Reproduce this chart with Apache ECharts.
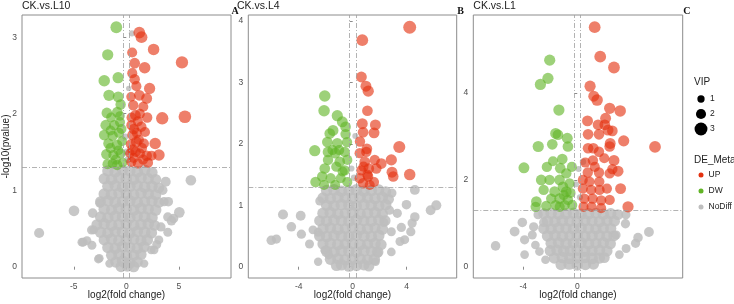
<!DOCTYPE html>
<html>
<head>
<meta charset="utf-8">
<script src="https://cdn.jsdelivr.net/npm/echarts@6/dist/echarts.min.js"></script>
<style>
    html, body { margin: 0; padding: 0; background: #fff; }
    #volcano { width: 734px; height: 304px; }
</style>
</head>
<body>
<div id="volcano"></div>
<script>
const panelNames = ['CK.vs.L10', 'CK.vs.L4', 'CK.vs.L1'];
const panelTags = ['A', 'B', 'C'];
const xTicks = [[-5, 0, 5], [-4, 0, 4], [-4, 0]];
const yTicks = [[0, 1, 2, 3], [0, 1, 2, 3, 4], [0, 2, 4]];
const fcCut = 0.25; // log2 fold change cut
const pCut = 1.301; // -log10(0.05)
const vipLevels = [1, 2, 3];
const groups = ['UP', 'DW', 'NoDiff'];

// points: [log2FC, -log10(p), VIP]
const up1 = [
    [1.24, 3.06, 2.6], [1.45, 3.0, 2.6], [2.6, 2.84, 2.5], [0.56, 2.8, 2.0], [5.3, 2.67, 2.8], [0.8, 2.66, 2.2],
    [0.57, 2.53, 2.0], [1.75, 2.6, 2.5], [0.8, 2.45, 2.1], [0.96, 2.36, 2.0], [2.22, 2.33, 2.4], [1.24, 2.24, 2.2],
    [1.94, 2.2, 2.3], [0.66, 2.11, 2.1], [1.62, 2.09, 2.0], [0.87, 1.98, 2.2], [1.99, 1.95, 2.1], [3.42, 1.94, 2.8],
    [5.58, 1.96, 2.9], [0.48, 1.85, 2.0], [1.43, 1.83, 2.1], [0.6, 1.72, 2.2], [1.78, 1.76, 2.0], [0.96, 1.63, 2.3],
    [1.68, 1.61, 2.0], [2.75, 1.61, 2.5], [3.11, 1.46, 2.5], [0.6, 1.53, 2.2], [1.3, 1.48, 2.0], [1.94, 1.45, 2.2],
    [0.48, 1.37, 2.0], [1.11, 1.35, 2.1], [2.06, 1.36, 2.1], [0.5, 1.95, 2.0], [1.1, 1.9, 2.0], [0.72, 1.8, 2.1],
    [1.2, 1.66, 2.0], [0.9, 1.5, 2.0], [1.6, 1.4, 2.0], [0.42, 1.6, 1.9], [1.3, 2.0, 1.9], [0.45, 2.22, 1.8],
    [1.0, 1.75, 2.0], [2.4, 1.45, 2.0], [1.5, 1.55, 2.0], [0.7, 1.42, 2.0], [0.35, 1.48, 1.8]
];
const dw1 = [
    [-0.95, 3.13, 2.6], [-1.77, 2.77, 2.4], [-2.1, 2.43, 2.5], [-0.78, 2.47, 2.4], [-1.65, 2.24, 2.4], [-0.77, 2.22, 2.3],
    [-0.54, 2.12, 2.1], [-1.85, 2.01, 2.2], [-0.86, 2.02, 2.2], [-1.96, 1.85, 2.2], [-1.15, 1.85, 2.1], [-0.6, 1.89, 2.0],
    [-2.1, 1.72, 2.2], [-1.3, 1.71, 2.1], [-0.7, 1.75, 2.0], [-1.7, 1.61, 2.1], [-0.88, 1.59, 2.2], [-0.4, 1.64, 1.9],
    [-1.9, 1.47, 2.1], [-1.23, 1.46, 2.0], [-0.53, 1.48, 2.0], [-1.79, 1.34, 2.0], [-0.87, 1.33, 2.1], [-0.34, 1.36, 1.8],
    [-1.5, 1.55, 2.0], [-1.0, 1.4, 2.0], [-0.45, 1.8, 1.9], [-1.45, 1.95, 1.9], [-0.6, 1.97, 1.8], [-1.5, 1.78, 1.9],
    [-0.75, 1.52, 1.9], [-1.3, 1.35, 1.9]
];
const no1 = [
    [-1.75, 1.25, 2.5], [-1.05, 1.24, 2.6], [-0.35, 1.26, 2.4], [0.35, 1.25, 2.5], [1.05, 1.24, 2.6], [1.75, 1.26, 2.5], [2.45, 1.23, 2.4],
    [-2.1, 1.15, 2.4], [-1.4, 1.14, 2.5], [-0.7, 1.16, 2.6], [0.0, 1.15, 2.5], [0.7, 1.14, 2.5], [1.4, 1.16, 2.6], [2.1, 1.15, 2.4], [2.8, 1.14, 2.3],
    [-1.75, 1.05, 2.5], [-1.05, 1.06, 2.5], [-0.35, 1.04, 2.6], [0.35, 1.05, 2.5], [1.05, 1.06, 2.4], [1.75, 1.04, 2.6], [2.45, 1.05, 2.5], [3.1, 1.03, 2.3],
    [-2.1, 0.95, 2.5], [-1.4, 0.94, 2.6], [-0.7, 0.96, 2.5], [0.0, 0.95, 2.4], [0.7, 0.94, 2.6], [1.4, 0.96, 2.5], [2.1, 0.95, 2.5], [2.8, 0.94, 2.4],
    [-2.45, 0.85, 2.3], [-1.75, 0.86, 2.5], [-1.05, 0.84, 2.6], [-0.35, 0.85, 2.5], [0.35, 0.86, 2.5], [1.05, 0.84, 2.6], [1.75, 0.85, 2.4], [2.45, 0.86, 2.5], [3.1, 0.84, 2.3],
    [-2.1, 0.75, 2.5], [-1.4, 0.74, 2.4], [-0.7, 0.76, 2.6], [0.0, 0.75, 2.5], [0.7, 0.74, 2.5], [1.4, 0.76, 2.6], [2.1, 0.75, 2.4], [2.8, 0.74, 2.5],
    [-2.45, 0.65, 2.4], [-1.75, 0.64, 2.5], [-1.05, 0.66, 2.5], [-0.35, 0.65, 2.6], [0.35, 0.64, 2.5], [1.05, 0.66, 2.4], [1.75, 0.65, 2.6], [2.45, 0.64, 2.5],
    [-2.8, 0.55, 2.3], [-2.1, 0.56, 2.5], [-1.4, 0.54, 2.6], [-0.7, 0.55, 2.5], [0.0, 0.56, 2.4], [0.7, 0.54, 2.6], [1.4, 0.55, 2.5], [2.1, 0.56, 2.5], [2.7, 0.54, 2.3],
    [-2.45, 0.45, 2.5], [-1.75, 0.44, 2.5], [-1.05, 0.46, 2.4], [-0.35, 0.45, 2.6], [0.35, 0.44, 2.5], [1.05, 0.46, 2.5], [1.75, 0.45, 2.6], [2.4, 0.44, 2.4],
    [-2.1, 0.35, 2.4], [-1.4, 0.36, 2.5], [-0.7, 0.34, 2.6], [0.0, 0.35, 2.5], [0.7, 0.36, 2.5], [1.4, 0.34, 2.4], [2.0, 0.35, 2.5],
    [-1.75, 0.25, 2.5], [-1.05, 0.24, 2.5], [-0.35, 0.26, 2.6], [0.35, 0.25, 2.4], [1.05, 0.24, 2.5], [1.7, 0.26, 2.4],
    [-1.4, 0.15, 2.4], [-0.7, 0.16, 2.5], [0.0, 0.14, 2.6], [0.7, 0.15, 2.5], [1.4, 0.16, 2.4],
    [-1.0, 0.06, 2.4], [-0.35, 0.07, 2.5], [0.35, 0.05, 2.5], [1.05, 0.06, 2.4],
    [-0.5, 0.0, 2.3], [0.1, 0.01, 2.5], [0.7, 0.0, 2.4],
    [6.15, 1.13, 2.2], [-4.98, 0.73, 2.2], [-8.3, 0.44, 2.0], [-3.2, 0.7, 1.8], [5.05, 0.71, 2.2], [4.5, 0.63, 1.8],
    [3.95, 0.65, 1.7], [3.3, 0.52, 1.7], [3.95, 0.45, 1.6], [3.1, 0.35, 1.6], [-4.22, 0.32, 1.6], [-3.75, 0.34, 1.6],
    [-3.27, 0.28, 1.6], [-2.57, 0.11, 1.5], [-1.6, 0.04, 1.4], [2.38, 0.22, 1.5], [2.65, 0.22, 1.5], [2.9, 0.29, 1.6],
    [3.75, 1.11, 2.0], [3.47, 1.0, 1.8], [4.0, 0.85, 1.8], [3.6, 0.85, 1.7], [4.3, 0.6, 1.8], [-2.5, 0.83, 1.8],
    [-3.3, 0.48, 1.7], [-4.1, 0.32, 1.6], [-2.66, 0.1, 1.5], [-3.1, 0.48, 1.5], [1.7, 0.04, 1.4],
    [0.54, 3.05, 0.6], [0.23, 2.33, 0.3], [0.05, 1.5, 0.8], [-0.1, 1.7, 0.6], [0.15, 1.4, 0.8]
];

const up2 = [
    [4.22, 3.9, 3.0], [0.71, 3.69, 2.6], [0.64, 3.09, 2.3], [0.98, 2.94, 2.3], [1.15, 2.86, 2.4], [1.09, 2.54, 2.2],
    [0.71, 2.33, 2.3], [1.68, 2.31, 2.3], [0.77, 2.19, 2.2], [1.58, 2.18, 2.3], [0.54, 2.04, 2.1], [3.45, 1.95, 2.7],
    [1.05, 1.92, 2.2], [2.86, 1.74, 2.4], [4.22, 1.5, 2.5], [2.91, 1.54, 2.3], [3.0, 1.47, 2.2], [0.52, 1.85, 2.1],
    [1.01, 1.87, 2.1], [0.89, 1.71, 2.2], [1.63, 1.74, 2.1], [2.12, 1.68, 2.2], [0.64, 1.57, 2.1], [1.19, 1.6, 2.2],
    [1.75, 1.6, 2.1], [0.52, 1.44, 2.1], [1.14, 1.47, 2.1], [1.58, 1.38, 2.0], [0.77, 1.36, 2.1], [1.26, 1.33, 2.0],
    [1.09, 1.5, 2.1], [0.8, 1.63, 2.0]
];
const dw2 = [
    [-2.07, 2.78, 2.5], [-2.12, 2.54, 2.5], [-1.14, 2.46, 2.4], [-0.77, 2.36, 2.3], [-0.53, 2.28, 2.2], [-1.46, 2.22, 2.3],
    [-1.7, 2.17, 2.2], [-0.53, 2.16, 2.1], [-1.88, 2.03, 2.2], [-1.14, 2.01, 2.2], [-0.42, 2.03, 2.1], [-2.81, 1.89, 2.4],
    [-1.83, 1.87, 2.2], [-1.29, 1.85, 2.2], [-0.59, 1.87, 2.1], [-1.83, 1.74, 2.1], [-0.96, 1.71, 2.2], [-0.4, 1.74, 2.0],
    [-2.07, 1.6, 2.2], [-1.21, 1.63, 2.1], [-0.59, 1.57, 2.1], [-2.75, 1.38, 2.2], [-2.26, 1.47, 2.1], [-1.63, 1.44, 2.1],
    [-0.89, 1.44, 2.0], [-0.4, 1.38, 2.0], [-2.12, 1.33, 2.0], [-1.3, 1.33, 2.0], [-0.75, 1.55, 2.0], [-1.5, 1.9, 2.0],
    [-1.0, 1.9, 2.0]
];
const no2 = [
    [-1.93, 1.24, 2.5], [-1.38, 1.25, 2.6], [-0.83, 1.23, 2.5], [-0.28, 1.24, 2.4], [0.28, 1.25, 2.6], [0.83, 1.23, 2.5], [1.38, 1.24, 2.5], [1.93, 1.25, 2.4], [2.45, 1.22, 2.3],
    [-2.2, 1.12, 2.4], [-1.65, 1.11, 2.5], [-1.1, 1.13, 2.6], [-0.55, 1.12, 2.5], [0.0, 1.11, 2.5], [0.55, 1.13, 2.6], [1.1, 1.12, 2.4], [1.65, 1.11, 2.5], [2.2, 1.13, 2.5], [2.65, 1.1, 2.3],
    [-1.93, 1.0, 2.5], [-1.38, 0.99, 2.5], [-0.83, 1.01, 2.6], [-0.28, 1.0, 2.5], [0.28, 0.99, 2.4], [0.83, 1.01, 2.6], [1.38, 1.0, 2.5], [1.93, 0.99, 2.5], [2.45, 1.01, 2.4],
    [-2.2, 0.87, 2.5], [-1.65, 0.88, 2.6], [-1.1, 0.86, 2.5], [-0.55, 0.87, 2.4], [0.0, 0.88, 2.6], [0.55, 0.86, 2.5], [1.1, 0.87, 2.5], [1.65, 0.88, 2.6], [2.2, 0.86, 2.4],
    [-2.45, 0.75, 2.3], [-1.93, 0.74, 2.5], [-1.38, 0.76, 2.6], [-0.83, 0.75, 2.5], [-0.28, 0.74, 2.5], [0.28, 0.76, 2.6], [0.83, 0.75, 2.4], [1.38, 0.74, 2.5], [1.93, 0.76, 2.5], [2.4, 0.75, 2.3],
    [-2.2, 0.62, 2.5], [-1.65, 0.63, 2.5], [-1.1, 0.61, 2.6], [-0.55, 0.62, 2.4], [0.0, 0.63, 2.5], [0.55, 0.61, 2.6], [1.1, 0.62, 2.5], [1.65, 0.63, 2.4], [2.2, 0.61, 2.5],
    [-2.45, 0.5, 2.4], [-1.93, 0.49, 2.5], [-1.38, 0.51, 2.5], [-0.83, 0.5, 2.6], [-0.28, 0.49, 2.5], [0.28, 0.51, 2.4], [0.83, 0.5, 2.6], [1.38, 0.49, 2.5], [1.93, 0.51, 2.5],
    [-2.2, 0.37, 2.4], [-1.65, 0.38, 2.5], [-1.1, 0.36, 2.6], [-0.55, 0.37, 2.5], [0.0, 0.38, 2.5], [0.55, 0.36, 2.6], [1.1, 0.37, 2.4], [1.65, 0.38, 2.5], [2.1, 0.36, 2.4],
    [-1.93, 0.25, 2.5], [-1.38, 0.24, 2.5], [-0.83, 0.26, 2.6], [-0.28, 0.25, 2.5], [0.28, 0.24, 2.5], [0.83, 0.26, 2.6], [1.38, 0.25, 2.4], [1.85, 0.24, 2.5],
    [-1.65, 0.12, 2.4], [-1.1, 0.13, 2.5], [-0.55, 0.11, 2.6], [0.0, 0.12, 2.5], [0.55, 0.13, 2.5], [1.1, 0.11, 2.4], [1.6, 0.12, 2.5],
    [-1.2, 0.02, 2.4], [-0.83, 0.03, 2.5], [-0.28, 0.01, 2.5], [0.28, 0.02, 2.5], [0.83, 0.03, 2.4], [1.2, 0.01, 2.3],
    [6.19, 1.0, 2.0], [5.77, 0.92, 1.9], [4.6, 1.25, 1.9], [3.98, 1.01, 1.8], [3.3, 0.87, 1.7], [4.6, 0.81, 1.8],
    [4.4, 0.71, 1.7], [3.6, 0.64, 1.7], [4.3, 0.57, 1.7], [3.85, 0.44, 1.6], [3.5, 0.41, 1.6], [2.86, 0.57, 1.6],
    [-5.16, 0.85, 2.0], [-3.85, 0.83, 1.9], [-4.54, 0.65, 1.8], [-6.03, 0.43, 1.8], [-5.65, 0.45, 1.7], [-3.8, 0.53, 1.7],
    [-3.2, 0.37, 1.6], [-2.56, 0.56, 1.6], [-2.94, 0.6, 1.6], [-2.56, 0.08, 1.4], [-2.07, 0.27, 1.5], [-1.77, 0.19, 1.5],
    [1.7, 0.08, 1.4], [1.88, 0.22, 1.5], [2.86, 0.24, 1.5], [-2.44, 1.07, 1.6], [2.31, 0.72, 1.6], [2.72, 0.92, 1.7],
    [2.9, 1.2, 1.7], [0.19, 2.13, 0.5], [0.1, 1.45, 0.7], [-0.1, 1.6, 0.6]
];

const up3 = [
    [1.29, 5.52, 2.6], [1.7, 4.84, 2.6], [2.72, 4.59, 2.6], [0.95, 4.16, 2.4], [1.22, 3.93, 2.3], [1.47, 3.84, 2.5],
    [2.4, 3.65, 2.4], [3.18, 3.59, 2.5], [0.76, 3.36, 2.3], [2.1, 3.42, 2.3], [1.54, 3.27, 2.2], [2.04, 3.27, 2.2],
    [2.28, 3.15, 2.3], [2.6, 3.13, 2.2], [0.8, 3.05, 2.2], [1.61, 3.05, 2.2], [3.44, 2.9, 2.4], [5.76, 2.76, 2.6],
    [2.44, 2.84, 2.3], [0.8, 2.73, 2.2], [1.19, 2.73, 2.2], [1.61, 2.65, 2.1], [2.4, 2.77, 2.2], [1.16, 2.45, 2.1],
    [2.72, 2.45, 2.3], [3.02, 2.2, 2.3], [0.78, 2.17, 2.1], [1.61, 2.17, 2.1], [2.4, 2.15, 2.1], [0.41, 2.0, 2.0],
    [0.9, 1.96, 2.1], [1.63, 1.96, 2.1], [3.21, 1.8, 2.3], [3.76, 1.38, 2.4], [2.4, 1.54, 2.1], [0.41, 1.8, 2.0],
    [1.03, 1.77, 2.1], [1.65, 1.77, 2.1], [0.52, 1.57, 2.1], [1.14, 1.57, 2.1], [1.77, 1.53, 2.1], [0.46, 1.38, 2.0],
    [1.06, 1.38, 2.0], [1.77, 1.35, 2.0], [2.2, 1.8, 2.0], [1.3, 2.3, 2.0], [0.6, 2.4, 2.0], [2.0, 2.5, 2.0],
    [2.6, 2.25, 2.1]
];
const dw3 = [
    [-2.04, 4.76, 2.4], [-2.17, 4.34, 2.4], [-2.73, 4.2, 2.4], [-1.36, 3.61, 2.4], [-1.6, 3.07, 2.3], [-1.43, 3.04, 2.2],
    [-0.74, 2.96, 2.3], [-1.85, 2.82, 2.2], [-2.89, 2.77, 2.4], [-0.69, 2.77, 2.2], [-3.95, 2.28, 2.3], [-1.11, 2.48, 2.2],
    [-0.4, 2.3, 2.0], [-2.25, 2.3, 2.1], [-1.26, 2.27, 2.2], [-2.67, 2.0, 2.2], [-2.05, 2.0, 2.1], [-1.31, 2.0, 2.2],
    [-0.57, 1.92, 2.1], [-1.06, 1.84, 2.2], [-2.49, 1.77, 2.1], [-1.68, 1.73, 2.2], [-0.81, 1.73, 2.2], [-3.03, 1.5, 2.2],
    [-3.08, 1.38, 2.1], [-1.93, 1.57, 2.1], [-1.31, 1.57, 2.2], [-0.69, 1.54, 2.1], [-2.3, 1.4, 2.1], [-1.6, 1.42, 2.1],
    [-0.93, 1.42, 2.1], [-0.37, 1.42, 2.0], [-1.8, 2.43, 2.0], [-0.81, 2.15, 2.1], [-1.3, 1.38, 2.0], [-1.0, 1.65, 2.0],
    [-0.5, 1.7, 2.0]
];
const no3 = [
    [-2.48, 1.22, 2.4], [-1.93, 1.23, 2.5], [-1.38, 1.21, 2.5], [-0.83, 1.22, 2.6], [-0.28, 1.23, 2.5], [0.28, 1.21, 2.5], [0.83, 1.22, 2.6], [1.38, 1.23, 2.4], [1.93, 1.21, 2.5], [2.48, 1.22, 2.5], [3.0, 1.2, 2.3],
    [-2.2, 1.05, 2.5], [-1.65, 1.04, 2.5], [-1.1, 1.06, 2.6], [-0.55, 1.05, 2.5], [0.0, 1.04, 2.5], [0.55, 1.06, 2.6], [1.1, 1.05, 2.4], [1.65, 1.04, 2.5], [2.2, 1.06, 2.5], [2.75, 1.05, 2.4],
    [-2.48, 0.88, 2.4], [-1.93, 0.87, 2.5], [-1.38, 0.89, 2.6], [-0.83, 0.88, 2.5], [-0.28, 0.87, 2.5], [0.28, 0.89, 2.6], [0.83, 0.88, 2.4], [1.38, 0.87, 2.5], [1.93, 0.89, 2.5], [2.48, 0.88, 2.4],
    [-2.2, 0.71, 2.5], [-1.65, 0.72, 2.5], [-1.1, 0.7, 2.6], [-0.55, 0.71, 2.4], [0.0, 0.72, 2.5], [0.55, 0.7, 2.6], [1.1, 0.71, 2.5], [1.65, 0.72, 2.4], [2.2, 0.7, 2.5], [2.7, 0.71, 2.3],
    [-1.93, 0.54, 2.5], [-1.38, 0.55, 2.5], [-0.83, 0.53, 2.6], [-0.28, 0.54, 2.5], [0.28, 0.55, 2.5], [0.83, 0.53, 2.6], [1.38, 0.54, 2.4], [1.93, 0.55, 2.5], [2.45, 0.53, 2.4],
    [-2.0, 0.37, 2.4], [-1.5, 0.38, 2.5], [-1.0, 0.36, 2.6], [-0.5, 0.37, 2.5], [0.0, 0.38, 2.5], [0.55, 0.36, 2.6], [1.1, 0.37, 2.4], [1.65, 0.38, 2.5], [2.2, 0.36, 2.4],
    [-1.7, 0.2, 2.4], [-1.1, 0.21, 2.5], [-0.55, 0.19, 2.6], [0.0, 0.2, 2.5], [0.55, 0.21, 2.5], [1.1, 0.19, 2.6], [1.65, 0.2, 2.4], [2.0, 0.21, 2.3],
    [-1.2, 0.05, 2.4], [-0.6, 0.06, 2.5], [0.0, 0.04, 2.5], [0.6, 0.05, 2.5], [1.2, 0.06, 2.4],
    [-6.05, 0.48, 1.8], [-4.64, 0.81, 1.9], [-4.07, 1.02, 1.8], [-3.23, 0.92, 1.7], [-3.9, 0.62, 1.7], [-3.33, 0.73, 1.6],
    [-3.9, 0.28, 1.5], [-2.49, 1.02, 1.7], [-2.35, 0.16, 1.5], [4.5, 0.67, 1.8], [5.31, 0.8, 1.9], [4.32, 0.54, 1.7],
    [3.62, 0.42, 1.6], [3.12, 0.28, 1.5], [2.88, 0.73, 1.6], [3.57, 0.99, 1.7], [3.6, 1.2, 1.7], [-2.9, 1.2, 1.7],
    [-3.1, 0.5, 1.5], [-2.8, 0.35, 1.5], [0.42, 2.42, 0.7], [0.2, 1.6, 0.6], [-0.1, 1.9, 0.6], [0.1, 2.25, 0.5]
];

const panelData = [
    { UP: up1, DW: dw1, NoDiff: no1 },
    { UP: up2, DW: dw2, NoDiff: no2 },
    { UP: up3, DW: dw3, NoDiff: no3 },
];

// plot frames (px) and axis extents
const frames = [
    { left: 22, width: 209, xMin: -9.93, xMax: 9.97, yMin: -0.148, yMax: 3.29 },
    { left: 248.3, width: 208.4, xMin: -7.73, xMax: 7.7, yMin: -0.184, yMax: 4.1 },
    { left: 473.3, width: 209.4, xMin: -7.7, xMax: 7.81, yMin: -0.26, yMax: 5.8 },
];
const colors = { UP: '#E4310F', DW: '#61B426', NoDiff: '#BEBEBE' };
const alphas = { UP: 0.62, DW: 0.62, NoDiff: 0.86 };
const vipSize = v => 4.5 + 2.8 * v;
const sans = 'Liberation Sans, Arial, sans-serif';

const chart = echarts.init(document.getElementById('volcano'));

const grid = frames.map(f => ({
    left: f.left, top: 15, width: f.width, height: 263,
    show: true, borderColor: '#8c8c8c', borderWidth: 1, backgroundColor: '#fff',
    outerBoundsMode: 'none',
}));

const xAxis = frames.map((f, i) => ({
    gridIndex: i, type: 'value', min: f.xMin, max: f.xMax,
    axisLine: { show: false }, splitLine: { show: false },
    axisTick: { show: true, length: 3, lineStyle: { color: '#8c8c8c' }, customValues: xTicks[i] },
    axisLabel: { customValues: xTicks[i], fontSize: 8.5, color: '#4d4d4d', margin: 4, fontFamily: sans },
    name: 'log2(fold change)', nameLocation: 'middle', nameGap: 12, nameMoveOverlap: false,
    nameTextStyle: { fontSize: 10, color: '#222', fontFamily: sans },
}));

const yAxis = frames.map((f, i) => ({
    gridIndex: i, type: 'value', min: f.yMin, max: f.yMax,
    axisLine: { show: false }, splitLine: { show: false },
    axisTick: { show: true, length: 3, lineStyle: { color: '#8c8c8c' }, customValues: yTicks[i] },
    axisLabel: { customValues: yTicks[i], fontSize: 8.5, color: '#4d4d4d', margin: 5, fontFamily: sans },
    name: i === 0 ? '-log10(pvalue)' : '', nameLocation: 'middle', nameGap: 11, nameRotate: 90,
    nameMoveOverlap: false,
    nameTextStyle: { fontSize: 10, color: '#222', fontFamily: sans },
}));

const series = [];
panelData.forEach((d, i) => {
    // threshold lines behind the points
    series.push({
        type: 'scatter', xAxisIndex: i, yAxisIndex: i, data: [], z: 1, silent: true,
        markLine: {
            silent: true, symbol: ['none', 'none'], label: { show: false },
            lineStyle: { color: '#a0a0a0', width: 0.8, type: [5, 2, 1, 2] },
            data: [{ xAxis: -fcCut }, { xAxis: fcCut }, { yAxis: pCut }],
        },
    });
    ['NoDiff', 'DW', 'UP'].forEach(g => {
        series.push({
            name: g, type: 'scatter', xAxisIndex: i, yAxisIndex: i,
            data: d[g],
            symbolSize: p => vipSize(p[2]),
            itemStyle: { color: colors[g], opacity: alphas[g] },
            emphasis: { disabled: true },
        });
    });
});

const graphic = [];
panelTags.forEach((t, i) => {
    graphic.push({
        type: 'text', left: frames[i].left + frames[i].width + 0.5, top: 6,
        style: { text: t, font: 'bold 10px "Liberation Serif", serif', fill: '#111' },
    });
});
graphic.push({ type: 'text', left: 694, top: 77, style: { text: 'VIP', font: '10px ' + sans, fill: '#222' } });
vipLevels.forEach((v, k) => {
    const cy = 99 + k * 15;
    graphic.push({ type: 'circle', shape: { cx: 701, cy: cy, r: vipSize(v) / 2 }, style: { fill: '#000' } });
    graphic.push({
        type: 'text', x: 710, y: cy,
        style: { text: String(v), font: '8.5px ' + sans, fill: '#222', verticalAlign: 'middle' },
    });
});
graphic.push({ type: 'text', left: 694, top: 155, style: { text: 'DE_Meta', font: '10px ' + sans, fill: '#222' } });

const option = {
    animation: false,
    backgroundColor: '#fff',
    title: panelNames.map((n, i) => ({
        text: n, left: i === 1 ? 237 : frames[i].left, top: 1, padding: 0,
        textStyle: { fontSize: 10.5, fontWeight: 'normal', color: '#222', fontFamily: sans },
    })),
    grid: grid,
    xAxis: xAxis,
    yAxis: yAxis,
    legend: {
        orient: 'vertical', left: 698.5, top: 170, padding: 0,
        itemWidth: 5, itemHeight: 5, itemGap: 6, icon: 'circle',
        textStyle: { fontSize: 8.5, color: '#222', fontFamily: sans, lineHeight: 10 },
        data: groups.map(g => ({ name: g, itemStyle: { opacity: 1 } })),
        selectedMode: false,
    },
    graphic: graphic,
    series: series,
};
chart.setOption(option);
</script>
</body>
</html>
